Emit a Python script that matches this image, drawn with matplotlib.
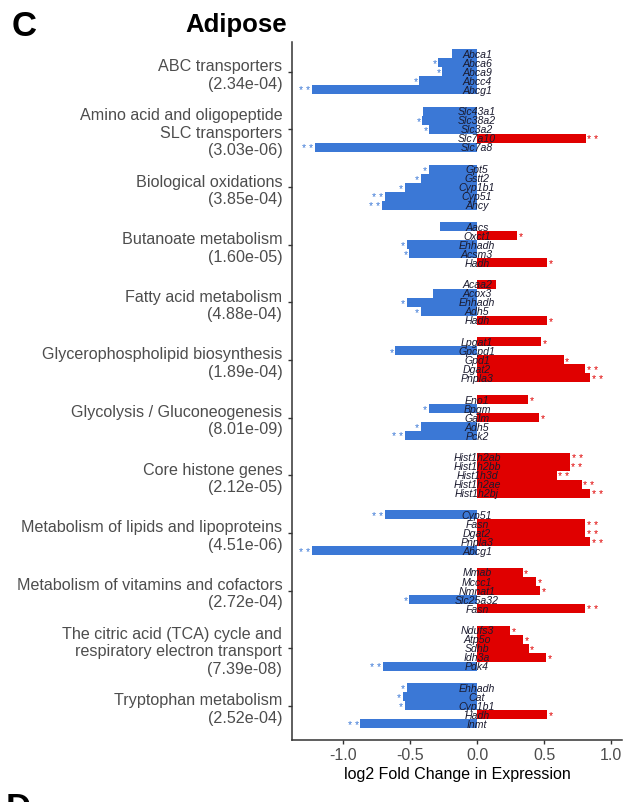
import matplotlib
matplotlib.use("Agg")
import matplotlib.pyplot as plt

plt.rcParams['font.family'] = ['Liberation Sans', 'DejaVu Sans']

BLUE = "#3b78d6"
RED = "#e00000"

pathways = ["ABC transporters",
            "Amino acid and oligopeptide\nSLC transporters",
            "Biological oxidations",
            "Butanoate metabolism",
            "Fatty acid metabolism",
            "Glycerophospholipid biosynthesis",
            "Glycolysis / Gluconeogenesis",
            "Core histone genes",
            "Metabolism of lipids and lipoproteins",
            "Metabolism of vitamins and cofactors",
            "The citric acid (TCA) cycle and\nrespiratory electron transport",
            "Tryptophan metabolism"]
pvals = ["2.34e-04", "3.03e-06", "3.85e-04", "1.60e-05", "4.88e-04", "1.89e-04",
         "8.01e-09", "2.12e-05", "4.51e-06", "2.72e-04", "7.39e-08", "2.52e-04"]

genes = [["Abca1", "Abca6", "Abca9", "Abcc4", "Abcg1"],
         ["Slc43a1", "Slc38a2", "Slc3a2", "Slc7a10", "Slc7a8"],
         ["Gpt5", "Gstt2", "Cyp1b1", "Cyp51", "Ahcy"],
         ["Aacs", "Oxct1", "Ehhadh", "Acsm3", "Hadh"],
         ["Acaa2", "Acox3", "Ehhadh", "Adh5", "Hadh"],
         ["Lpgat1", "Gpcpd1", "Gpd1", "Dgat2", "Pnpla3"],
         ["Eno1", "Bpgm", "Galm", "Adh5", "Pck2"],
         ["Hist1h2ab", "Hist1h2bb", "Hist1h3d", "Hist1h2ae", "Hist1h2bj"],
         ["Cyp51", "Fasn", "Dgat2", "Pnpla3", "Abcg1"],
         ["Mmab", "Mccc1", "Nmnat1", "Slc25a32", "Fasn"],
         ["Ndufs3", "Atp5o", "Sdhb", "Idh3a", "Pdk4"],
         ["Ehhadh", "Cat", "Cyp1b1", "Hadh", "Inmt"]]

lfc = [[-0.19, -0.29, -0.26, -0.43, -1.23],
       [-0.40, -0.41, -0.355, 0.81, -1.21],
       [-0.36, -0.42, -0.54, -0.69, -0.71],
       [-0.28, 0.30, -0.525, -0.505, 0.52],
       [0.14, -0.33, -0.525, -0.42, 0.52],
       [0.475, -0.61, 0.645, 0.805, 0.845],
       [0.38, -0.36, 0.46, -0.42, -0.54],
       [0.695, 0.69, 0.595, 0.78, 0.845],
       [-0.69, 0.805, 0.805, 0.845, -1.23],
       [0.34, 0.44, 0.47, -0.505, 0.805],
       [0.245, 0.345, 0.385, 0.515, -0.70],
       [-0.525, -0.555, -0.54, 0.52, -0.87]]

# significance marks next to each bar
stars = [["", "*", "*", "*", "**"],
         ["", "*", "*", "**", "**"],
         ["*", "*", "*", "**", "**"],
         ["", "*", "*", "*", "*"],
         ["", "", "*", "*", "*"],
         ["*", "*", "*", "**", "**"],
         ["*", "*", "*", "*", "**"],
         ["**", "**", "**", "**", "**"],
         ["**", "**", "**", "**", "**"],
         ["*", "*", "*", "*", "**"],
         ["*", "*", "*", "*", "**"],
         ["*", "*", "*", "*", "**"]]

GROUP_STEP = 6.4

fig = plt.figure(figsize=(6.38, 8.03), dpi=100)
ax = fig.add_axes([0.4577, 0.0772, 0.517, 0.8692])

tick_pos = []
for g in range(len(pathways)):
    for k in range(5):
        y = g * GROUP_STEP + k
        v = lfc[g][k]
        col = RED if v > 0 else BLUE
        ax.barh(y, v, height=1.0, color=col, zorder=2)
        ax.text(0, y, genes[g][k], ha="center", va="center", fontsize=7.6,
                style="italic", color="#1a1a2e", zorder=3)
        if stars[g][k]:
            off = 0.012 if v > 0 else -0.012
            ax.text(v + off, y + 0.08, " ".join(stars[g][k]),
                    ha="left" if v > 0 else "right",
                    va="center", fontsize=7.5, color=col, zorder=3)
    tick_pos.append(g * GROUP_STEP + 2)

ax.set_yticks(tick_pos)
ax.set_yticklabels([f"{p}\n({pv})" for p, pv in zip(pathways, pvals)],
                   fontsize=11.6, color="#4d4d4d", ha="right")
ax.set_ylim(11 * GROUP_STEP + 4 + 1.8, -1.3)
ax.set_xlim(-1.38, 1.08)
ax.set_xticks([-1.0, -0.5, 0.0, 0.5, 1.0])
ax.set_xticklabels(["-1.0", "-0.5", "0.0", "0.5", "1.0"], fontsize=11.5, color="#4d4d4d")
ax.set_xlabel("log2 Fold Change in Expression", fontsize=11.5, color="black", labelpad=3)

for s in ["top", "right"]:
    ax.spines[s].set_visible(False)
for s in ["left", "bottom"]:
    ax.spines[s].set_linewidth(1.1)
    ax.spines[s].set_color("#333333")
ax.tick_params(length=3, width=1, color="#333333", pad=2)
ax.tick_params(axis="y", pad=4)

fig.text(12 / 638, 1 - 26 / 803, "C", fontsize=25, fontweight="bold", ha="left", va="center")
fig.text(236 / 638, 1 - 25 / 803, "Adipose", fontsize=18.5, fontweight="bold", ha="center", va="center")
fig.text(6 / 638, -6 / 803, "D", fontsize=25, fontweight="bold", ha="left", va="center")

fig.savefig("out.png", dpi=100)
